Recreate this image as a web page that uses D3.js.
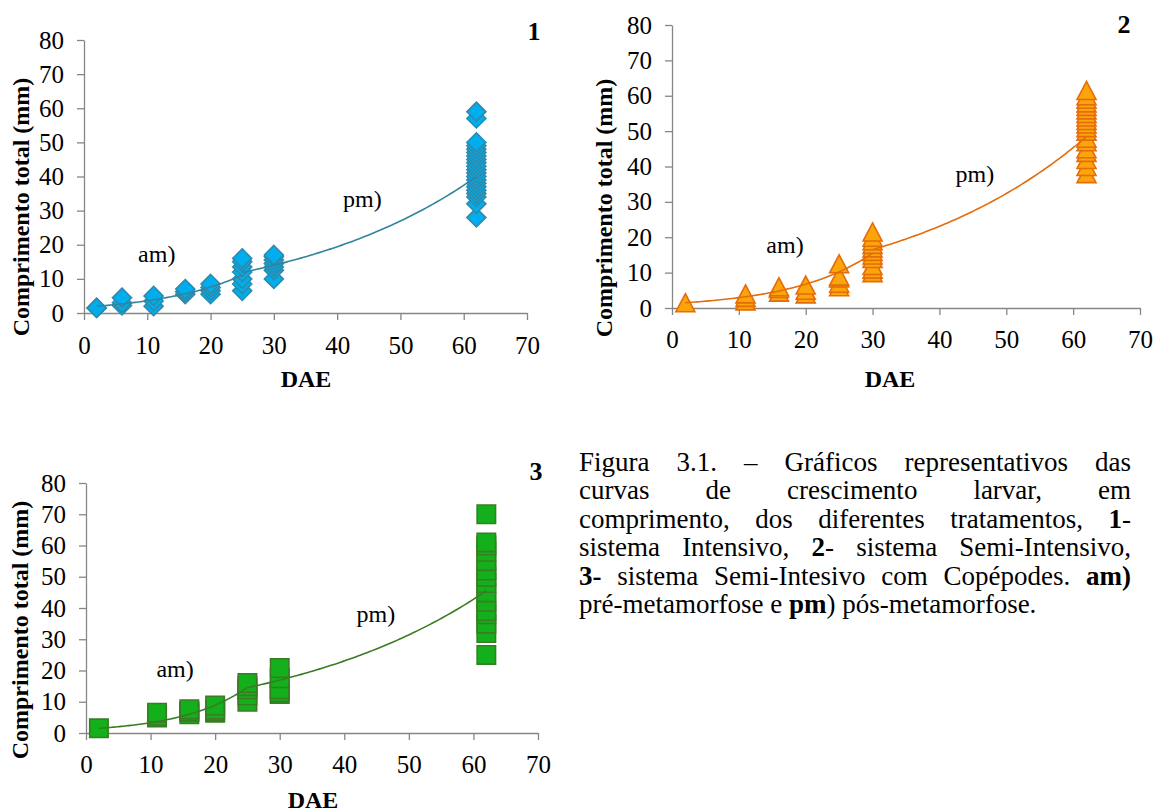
<!DOCTYPE html>
<html>
<head>
<meta charset="utf-8">
<script src="https://cdn.jsdelivr.net/npm/d3@7"></script>
<style>
  html, body { margin: 0; padding: 0; background: #fff; }
  svg { display: block; font-family: "Liberation Serif", "Times New Roman", serif; }
</style>
</head>
<body>
<svg id="fig" width="1158" height="812"></svg>
<script>
// ---- data -------------------------------------------------------------
// Sampling days (DAE) and total length (mm) of larvae per treatment.
const intensivo = [
  [2,  [1.5, 1.5]],
  [6,  [2.2, 3, 4.5]],
  [11, [2, 3.5, 5]],
  [16, [5.5, 6.2, 7]],
  [20, [5.5, 6.5, 7.5, 8.5]],
  [25, [6.5, 8.5, 10, 12, 13.5, 15, 16]],
  [30, [10, 12.5, 13.5, 14.5, 15.5, 16.5, 17]],
  [62, [28, 32, 34, 35, 36, 37, 38, 39, 40, 41, 42, 43, 44, 45, 46, 47, 48, 49, 50, 57, 59]]
];
const semiIntensivo = [
  [2,  [1.5]],
  [11, [2, 3, 4]],
  [16, [4.5, 5.5, 6]],
  [20, [4, 5, 6.5]],
  [25, [6, 7, 8.5, 9, 12.5]],
  [30, [10, 11, 12, 14, 15, 16, 17, 18, 19, 20, 21.5]],
  [62, [38, 40, 42, 44, 45, 47, 48, 50, 51, 52, 53, 54, 55, 56, 57, 58, 59, 60, 61.5]]
];
const semiCopepodes = [
  [2,  [1.5]],
  [11, [5, 5.5, 6.5]],
  [16, [6, 6.7, 7, 7.6]],
  [20, [6.5, 7, 7.5, 8.8]],
  [25, [10, 12, 14, 15, 16]],
  [30, [12.5, 13, 14, 17.5, 20.8]],
  [62, [25, 32, 35, 38, 39, 42, 45, 48, 50, 52, 55, 58, 60, 61, 70]]
];

// Exponential trendlines y = a * exp(b * x), pre- (am) and post-metamorphosis (pm)
const trend1 = [ { a: 1.70, b: 0.0750, from: 2,  to: 25 }, { a: 5.23, b: 0.0328, from: 25, to: 62 } ];
const trend2 = [ { a: 1.27, b: 0.0834, from: 2,  to: 30 }, { a: 6.00, b: 0.0337, from: 30, to: 62 } ];
const trend3 = [ { a: 1.23, b: 0.0990, from: 2,  to: 25 }, { a: 6.70, b: 0.0309, from: 25, to: 62 } ];

// Axis ticks and labels
const xTicks = [0, 10, 20, 30, 40, 50, 60, 70];
const yTicks = [0, 10, 20, 30, 40, 50, 60, 70, 80];
const xTitle = "DAE";
const yTitle = "Comprimento total (mm)";
const phaseLabels = ["am)", "pm)"];
const panelNumbers = ["1", "2", "3"];

// Caption lines (words wrapped in * are bold)
const captionLines = [
  "Figura 3.1. – Gráficos representativos das",
  "curvas de crescimento larvar, em",
  "comprimento, dos diferentes tratamentos, *1*-",
  "sistema Intensivo, *2*- sistema Semi-Intensivo,",
  "*3-* sistema Semi-Intesivo com Copépodes. *am)*",
  "pré-metamorfose e *pm*) pós-metamorfose."
];

// ---- marker shapes ----------------------------------------------------
const diamond = { draw(ctx) { const r = 9.5; ctx.moveTo(0, -r); ctx.lineTo(r, 0); ctx.lineTo(0, r); ctx.lineTo(-r, 0); ctx.closePath(); } };
const triangle = { draw(ctx) { const w = 9.5, h = 9; ctx.moveTo(0, -h); ctx.lineTo(w, h); ctx.lineTo(-w, h); ctx.closePath(); } };
const square = { draw(ctx) { const s = 9.2; ctx.moveTo(-s, -s); ctx.lineTo(s, -s); ctx.lineTo(s, s); ctx.lineTo(-s, s); ctx.closePath(); } };

// ---- layout -----------------------------------------------------------
const panels = [
  { series: intensivo, trend: trend1, shape: diamond,
    fill: "#00AEEF", stroke: "#2D8AAB", line: "#31859C",
    xr: [84, 527], yr: [313, 40], xLab: 41,
    yTitlePos: [29, 207], xTitlePos: [306, 387], numPos: [534, 40],
    am: [11.5, 15], pm: [44, 31] },
  { series: semiIntensivo, trend: trend2, shape: triangle,
    fill: "#FBA50B", stroke: "#E46C0A", line: "#E46C0A",
    xr: [672, 1140], yr: [308, 25], xLab: 40,
    yTitlePos: [612, 208], xTitlePos: [890, 387], numPos: [1124, 33],
    am: [16.9, 15.5], pm: [45.3, 35.6] },
  { series: semiCopepodes, trend: trend3, shape: square,
    fill: "#13B01C", stroke: "#3A7C23", line: "#3A7C23",
    xr: [86, 538], yr: [733, 483], xLab: 40,
    yTitlePos: [28, 630], xTitlePos: [313, 808], numPos: [536, 480],
    am: [13.8, 17.9], pm: [44.9, 35.5] }
];

const svg = d3.select("#fig");
const axisColor = "#868686";

panels.forEach((p, i) => {
  const x = d3.scaleLinear().domain([0, 70]).range(p.xr);
  const y = d3.scaleLinear().domain([0, 80]).range(p.yr);
  const g = svg.append("g");

  // axes
  const ya = g.append("g").attr("transform", `translate(${p.xr[0]},0)`)
    .call(d3.axisLeft(y).tickValues(yTicks).tickSize(7).tickSizeOuter(0).tickPadding(13));
  const xa = g.append("g").attr("transform", `translate(0,${p.yr[0]})`)
    .call(d3.axisBottom(x).tickValues(xTicks).tickSize(7).tickSizeOuter(0));
  [ya, xa].forEach(a => {
    a.selectAll("path, line").attr("stroke", axisColor).attr("stroke-width", 1.3);
    a.selectAll("text").attr("fill", "#000").style("font-size", "25px")
      .style("font-family", '"Liberation Serif", "Times New Roman", serif');
  });
  xa.selectAll("text").attr("y", p.xLab).attr("dy", 0);

  // markers
  const pts = p.series.flatMap(([d, vals]) => vals.map(v => ({ d, v })));
  g.append("g").selectAll("path").data(pts).join("path")
    .attr("d", d3.symbol().type(p.shape))
    .attr("transform", q => `translate(${x(q.d)},${y(q.v)})`)
    .attr("fill", p.fill).attr("stroke", p.stroke).attr("stroke-width", 1.6);

  // trendlines
  const line = d3.line().x(q => x(q[0])).y(q => y(q[1]));
  p.trend.forEach(t => {
    const xs = d3.range(t.from, t.to + 1e-9, (t.to - t.from) / 80);
    g.append("path").datum(xs.map(v => [v, t.a * Math.exp(t.b * v)]))
      .attr("d", line).attr("fill", "none").attr("stroke", p.line).attr("stroke-width", 1.6);
  });

  // phase labels
  [p.am, p.pm].forEach((pos, k) => {
    g.append("text").attr("x", x(pos[0])).attr("y", y(pos[1]))
      .attr("text-anchor", "middle").style("font-size", "24px").text(phaseLabels[k]);
  });

  // titles
  g.append("text").attr("transform", `translate(${p.yTitlePos[0]},${p.yTitlePos[1]}) rotate(-90)`)
    .attr("text-anchor", "middle").style("font-size", "24px").style("font-weight", "bold").text(yTitle);
  g.append("text").attr("x", p.xTitlePos[0]).attr("y", p.xTitlePos[1])
    .attr("text-anchor", "middle").style("font-size", "24px").style("font-weight", "bold").text(xTitle);
  g.append("text").attr("x", p.numPos[0]).attr("y", p.numPos[1])
    .attr("text-anchor", "middle").style("font-size", "26px").style("font-weight", "bold").text(panelNumbers[i]);
});

// ---- caption (justified paragraph) -----------------------------------
const cap = { left: 579, right: 1131, top: 471, step: 28.4, size: 27 };
const capG = svg.append("g").style("font-size", cap.size + "px");
captionLines.forEach((ln, li) => {
  const words = ln.split(" ");
  let bold = false;
  const nodes = words.map(w => {
    const t = capG.append("text").attr("y", cap.top + li * cap.step);
    w.split("*").forEach((part, pi) => {
      if (pi > 0) bold = !bold;
      if (part.length) t.append("tspan").style("font-weight", bold ? "bold" : "normal").text(part);
    });
    return t;
  });
  const widths = nodes.map(n => n.node().getComputedTextLength());
  const total = d3.sum(widths);
  const last = li === captionLines.length - 1;
  const gap = last ? cap.size * 0.25 : (cap.right - cap.left - total) / (nodes.length - 1);
  let cx = cap.left;
  nodes.forEach((n, k) => { n.attr("x", cx); cx += widths[k] + gap; });
});
</script>
</body>
</html>
